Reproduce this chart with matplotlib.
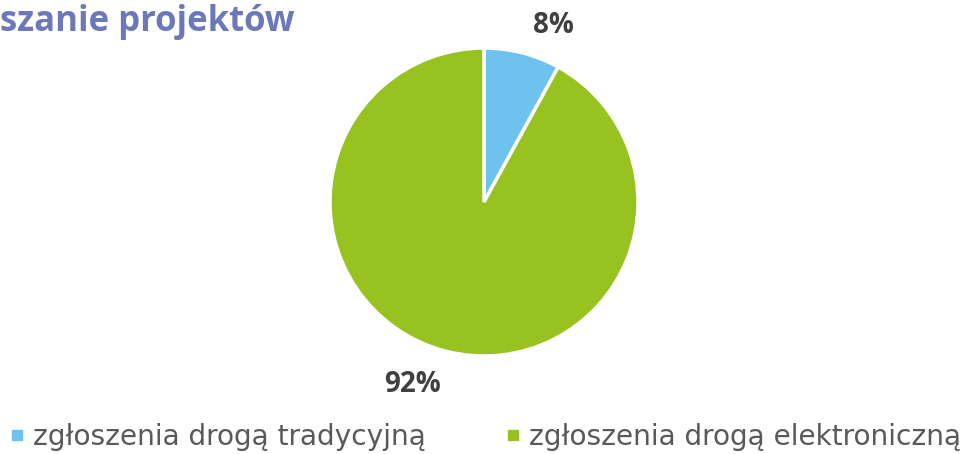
import matplotlib
matplotlib.use("Agg")
import matplotlib.pyplot as plt
from matplotlib.lines import Line2D
import numpy as np

categories = ["zgłoszenia drogą tradycyjną", "zgłoszenia drogą elektroniczną"]
values = [8, 92]
colors = ["#6DC3EE", "#97C21F"]
title = "szanie projektów"  # visible part of "Zgłaszanie projektów"

plt.rcParams['font.family'] = ['Open Sans', 'DejaVu Sans']

W, H = 971, 454
fig = plt.figure(figsize=(W / 100, H / 100), dpi=100)

cx, cy, r = 484, 202, 154
ax = fig.add_axes([(cx - r) / W, (H - cy - r) / H, 2 * r / W, 2 * r / H])
wedges, _ = ax.pie(values, colors=colors, startangle=90, counterclock=False,
                   wedgeprops=dict(edgecolor="white", linewidth=2.5))
ax.set_xlim(-1, 1)
ax.set_ylim(-1, 1)
ax.set_aspect('equal')
ax.axis('off')

total = sum(values)
start = 90.0
dists = [1.23, 1.27]
for v, d in zip(values, dists):
    span = 360.0 * v / total
    mid = start - span / 2 - 7
    ang = np.deg2rad(mid)
    ax.text(d * np.cos(ang), d * np.sin(ang), f"{v}%", ha='center', va='center',
            fontsize=20, fontweight='bold', color="#404040")
    start -= span

fig.text(0 / W, 1 - 22 / H, title, ha='left', va='center', fontsize=25,
         fontweight='bold', color="#6C78B8")

lx = [8.7, 504.7]
for c, lab, x in zip(colors, categories, lx):
    h = Line2D([], [], marker='s', linestyle='none', markersize=7.5,
               markerfacecolor=c, markeredgecolor=c)
    leg = fig.legend([h], [lab], loc='center left', bbox_to_anchor=(x / W, 1 - 437 / H),
                     frameon=False, borderpad=0, borderaxespad=0,
                     prop=dict(family='DejaVu Sans', size=20.2), labelcolor="#595959",
                     handlelength=0.6, handletextpad=0.25)

fig.savefig("out.png", dpi=100)
